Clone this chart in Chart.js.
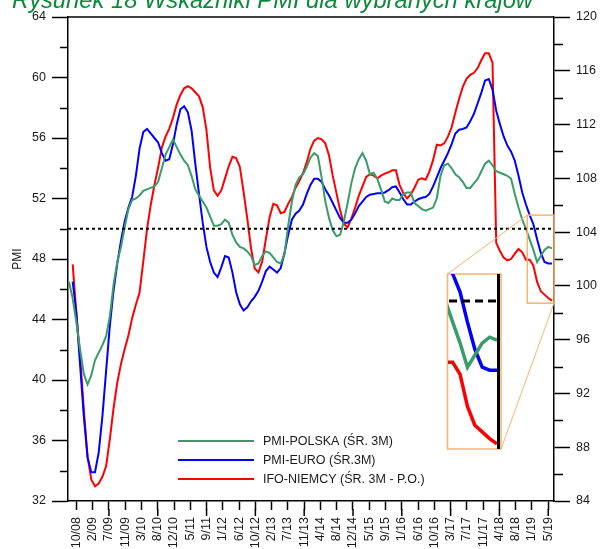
<!DOCTYPE html>
<html><head><meta charset="utf-8">
<script src="https://cdn.jsdelivr.net/npm/chart.js"></script>
<style>
html,body{margin:0;padding:0;background:#fff;overflow:hidden}
#wrap{position:relative;width:601px;height:549px;overflow:hidden}
#main{position:absolute;left:0;top:0}
#inset{position:absolute;left:448px;top:274px}
#title{position:absolute;left:12px;top:-11px;display:inline-block;white-space:nowrap;font-family:'Liberation Sans',Arial,sans-serif;font-style:italic;font-size:23px;line-height:23px;color:#0a8a3a;transform-origin:0 0}
</style></head><body>
<div id="wrap">
<canvas id="main" width="601" height="549"></canvas>
<canvas id="inset" width="53" height="175"></canvas>
<div id="title">Rysunek 18 Wskaźniki PMI dla wybranych krajów</div>
</div>
<script>
// months counted from January 2008 (0 = 1/08)
const firstMonth = 7;
const pmiPolska = [46.5,45.4,43.8,42.0,40.4,39.7,40.3,41.3,41.8,42.3,
42.9,44.2,46.3,47.8,48.8,50.1,51.3,51.9,52.0,52.2,
52.5,52.6,52.7,52.8,53.1,54.0,54.9,55.4,55.9,55.4,
54.9,54.5,54.2,53.5,52.6,52.2,51.8,51.4,50.8,50.2,
50.2,50.3,50.6,50.4,49.6,49.1,48.8,48.7,48.5,48.2,
47.6,47.7,48.2,48.5,48.4,48.1,47.8,47.7,48.3,50.2,
51.8,52.9,53.4,53.6,54.1,54.7,55.0,54.8,53.4,51.8,
50.7,49.9,49.5,49.6,50.5,51.7,53.0,54.0,54.6,55.0,
54.5,53.6,53.7,53.3,52.6,51.8,51.7,52.0,51.9,51.9,
52.3,52.4,52.4,51.7,51.5,51.3,51.2,51.3,51.4,52.0,
53.5,54.2,54.3,54.0,53.6,53.4,53.1,52.7,52.7,53.0,
53.3,53.8,54.3,54.5,54.2,53.8,53.7,53.6,53.5,53.3,
52.3,51.4,50.6,50.0,49.3,48.6,47.8,48.2,48.6,48.8,
48.7];
const pmiEuro = [null,46.5,44.4,41.0,37.6,34.9,33.9,33.9,35.2,37.6,
40.6,43.6,45.9,47.7,49.2,50.5,51.4,52.1,53.5,55.3,
56.4,56.6,56.3,56.0,55.7,55.0,54.5,54.6,55.6,56.9,
57.9,58.1,57.7,56.5,54.3,52.3,50.4,48.8,47.8,47.1,
46.8,47.45,48.2,48.1,47.1,45.8,45.0,44.6,44.8,45.2,
45.5,45.9,46.5,47.2,47.5,47.3,47.1,47.4,48.4,49.6,
50.6,51.0,51.2,51.6,52.3,52.9,53.3,53.3,53.1,52.6,
52.2,51.7,51.2,50.7,50.4,50.4,50.6,51.0,51.5,51.8,
52.1,52.25,52.3,52.35,52.35,52.4,52.55,52.75,52.8,52.4,
51.95,51.6,51.6,51.8,51.95,52.05,52.1,52.3,52.8,53.4,
54.0,54.5,55.0,55.6,56.3,56.55,56.6,56.7,57.1,57.6,
58.3,59.0,59.8,59.9,59.2,57.8,56.9,56.1,55.5,55.1,
54.5,53.5,52.4,51.6,50.9,50.3,49.3,48.4,47.8,47.7,
47.7];
const ifoNiemcy = [null,101.6,97.9,94.7,90.8,87.3,85.6,85.1,85.3,85.8,
86.6,88.6,90.9,92.8,94.2,95.3,96.3,97.6,98.6,99.5,
101.8,104.2,106.0,107.5,108.8,110.3,111.1,111.7,112.5,113.5,
114.2,114.7,114.85,114.7,114.4,114.1,113.3,111.6,108.8,107.1,
106.7,107.1,108.0,108.9,109.6,109.5,108.85,107.0,105.0,102.8,
101.3,101.0,101.8,103.5,105.1,106.1,106.0,105.4,105.5,106.1,
106.6,107.3,107.8,108.4,109.2,110.2,110.8,111.0,110.9,110.6,
109.7,108.2,106.9,105.6,104.6,104.35,105.0,105.8,106.7,107.4,
108.1,108.3,108.2,108.0,108.2,108.35,108.45,108.6,108.6,107.5,
106.9,106.5,106.8,107.3,107.9,108.0,107.9,108.5,109.35,110.5,
110.45,110.6,111.1,111.8,112.9,113.9,114.8,115.4,115.7,115.85,
116.2,116.8,117.3,117.3,116.6,103.2,102.6,102.1,101.9,102.0,
102.4,102.75,102.5,101.95,101.95,101.5,100.3,99.6,99.35,99.1,
98.9];
const seriesLabels = ['PMI-POLSKA (ŚR. 3M)','PMI-EURO (ŚR.3M)','IFO-NIEMCY (ŚR. 3M - P.O.)'];
const tickLabels = ['10/08','2/09','7/09','11/09','3/10','8/10','12/10','5/11','9/11','1/12','6/12','10/12','2/13','7/13','11/13','4/14','8/14','12/14','5/15','9/15','1/16','6/16','10/16','3/17','7/17','11/17','4/18','8/18','1/19','5/19'];
const firstTickMonth = 9, lastTickMonth = 136;
const xRange = [6.74, 137.55];
const leftRange = [32, 64], rightRange = [84, 120];
const refLevel = 50;
const insetX = [130.36, 137.55], insetLeft = [45.08, 50.9], insetRight = [98.71, 105.25];

const GREEN = '#3a9c68', BLUE = '#0000ff', RED = '#ff0000', ORANGE = '#f8b46c';
const FONT = "'Liberation Sans', Arial, sans-serif";
const pts = arr => arr.map((v, i) => ({x: firstMonth + i, y: v}));

function datasets(width) {
  return [
    {label: seriesLabels[0], data: pts(pmiPolska), borderColor: GREEN, yAxisID: 'y', borderWidth: width},
    {label: seriesLabels[1], data: pts(pmiEuro), borderColor: BLUE, yAxisID: 'y', borderWidth: width},
    {label: seriesLabels[2], data: pts(ifoNiemcy), borderColor: RED, yAxisID: 'y2', borderWidth: width}
  ];
}

const insetBox = {left: 448, top: 274, width: 53, height: 175};

const decor = {
  id: 'decor',
  afterDatasetsDraw(chart) {
    const {ctx, chartArea: a, scales: {x, y, y2}} = chart;
    ctx.save();
    ctx.strokeStyle = '#000';
    ctx.lineWidth = 1.5;
    ctx.beginPath(); ctx.moveTo(a.left, a.top); ctx.lineTo(a.right, a.top); ctx.stroke();
    ctx.beginPath();
    for (let v = leftRange[0] + 2; v < leftRange[1]; v += 4) {
      const p = Math.round(y.getPixelForValue(v)) + 0.5;
      ctx.moveTo(a.left - 8, p); ctx.lineTo(a.left, p);
    }
    for (let v = rightRange[0] + 2; v < rightRange[1]; v += 4) {
      const p = Math.round(y2.getPixelForValue(v)) + 0.5;
      ctx.moveTo(a.right, p); ctx.lineTo(a.right + 9, p);
    }
    x.ticks.forEach((t, i) => {
      if (i % 3 === 2) {
        const p = x.getPixelForValue(t.value);
        ctx.moveTo(p, a.bottom + 8); ctx.lineTo(p, a.bottom + 15);
      }
    });
    ctx.stroke();
    ctx.setLineDash([3, 3]);
    ctx.lineWidth = 2;
    const ry = y.getPixelForValue(refLevel);
    ctx.beginPath(); ctx.moveTo(a.left, ry); ctx.lineTo(a.right, ry); ctx.stroke();
    ctx.setLineDash([]);
    const sx0 = x.getPixelForValue(insetX[0]), sx1 = x.getPixelForValue(insetX[1]);
    const sy0 = y.getPixelForValue(insetLeft[1]), sy1 = y.getPixelForValue(insetLeft[0]);
    ctx.strokeStyle = ORANGE; ctx.lineWidth = 1.5;
    ctx.strokeRect(sx0, sy0, sx1 - sx0, sy1 - sy0);
    ctx.strokeRect(insetBox.left - 0.5, insetBox.top, insetBox.width + 0.5, insetBox.height);
    ctx.lineWidth = 1;
    ctx.beginPath();
    ctx.moveTo(sx0, sy0); ctx.lineTo(insetBox.left - 0.5, insetBox.top);
    ctx.moveTo(sx1, sy1); ctx.lineTo(insetBox.left + insetBox.width, insetBox.top + insetBox.height);
    ctx.stroke();
    const rows = [441, 460, 479];
    ctx.font = '12.5px ' + FONT;
    ctx.textBaseline = 'middle';
    ctx.textAlign = 'left';
    chart.data.datasets.forEach((ds, i) => {
      ctx.strokeStyle = ds.borderColor; ctx.lineWidth = 2;
      ctx.beginPath(); ctx.moveTo(178, rows[i]); ctx.lineTo(254, rows[i]); ctx.stroke();
      ctx.fillStyle = '#1a1a1a';
      ctx.fillText(ds.label, 263, rows[i] + 0.5);
    });
    ctx.restore();
  }
};

const tickFont = {family: FONT, size: 12.5};
new Chart(document.getElementById('main'), {
  type: 'line',
  data: {datasets: datasets(2)},
  options: {
    responsive: false, animation: false, devicePixelRatio: 1,
    elements: {point: {radius: 0}, line: {tension: 0}},
    layout: {padding: {top: 17, left: 0, right: 0, bottom: 0}},
    plugins: {legend: {display: false}, tooltip: {enabled: false}},
    scales: {
      x: {
        type: 'linear', position: 'bottom', min: xRange[0], max: xRange[1],
        afterBuildTicks: s => {
          const step = (lastTickMonth - firstTickMonth) / (tickLabels.length - 1);
          s.ticks = tickLabels.map((l, i) => ({value: firstTickMonth + i * step}));
        },
        ticks: {autoSkip: false, minRotation: 90, maxRotation: 90, padding: 7, color: '#1a1a1a', font: tickFont,
          callback: (v, i) => tickLabels[i]},
        grid: {drawOnChartArea: false, drawTicks: true, tickLength: 9, color: '#000', tickWidth: 1.5},
        border: {display: true, color: '#000', width: 1.5},
        afterFit: s => { s.height = 48; }
      },
      y: {
        position: 'left', min: leftRange[0], max: leftRange[1],
        ticks: {stepSize: 4, padding: 6, color: '#1a1a1a', font: tickFont},
        grid: {drawOnChartArea: false, tickLength: 16, color: '#000', tickWidth: 1.5},
        border: {display: true, color: '#000', width: 1.5},
        title: {display: true, text: 'PMI', color: '#1a1a1a', font: {family: FONT, size: 12}, padding: {top: 10, bottom: 0}},
        afterFit: s => { s.width = 68; }
      },
      y2: {
        position: 'right', min: rightRange[0], max: rightRange[1],
        ticks: {stepSize: 4, padding: 6, color: '#1a1a1a', font: tickFont},
        grid: {drawOnChartArea: false, tickLength: 16, color: '#000', tickWidth: 1.5},
        border: {display: true, color: '#000', width: 1.5},
        afterFit: s => { s.width = 47; }
      }
    }
  },
  plugins: [decor]
});

const insetDecor = {
  id: 'insetDecor',
  afterDatasetsDraw(chart) {
    const {ctx, chartArea: a, scales: {y}} = chart;
    ctx.save();
    ctx.strokeStyle = '#000';
    ctx.lineWidth = 3;
    const ax = a.right - 2.5;
    ctx.setLineDash([8, 5]);
    const ry = y.getPixelForValue(refLevel);
    ctx.beginPath(); ctx.moveTo(a.left + 1, ry); ctx.lineTo(ax, ry); ctx.stroke();
    ctx.setLineDash([]);
    ctx.beginPath(); ctx.moveTo(ax, a.top); ctx.lineTo(ax, a.bottom); ctx.stroke();
    ctx.restore();
  }
};

new Chart(document.getElementById('inset'), {
  type: 'line',
  data: {datasets: datasets(3.5)},
  options: {
    responsive: false, animation: false, devicePixelRatio: 1,
    elements: {point: {radius: 0}, line: {tension: 0}},
    layout: {padding: 0},
    plugins: {legend: {display: false}, tooltip: {enabled: false}},
    scales: {
      x: {type: 'linear', display: false, min: insetX[0], max: insetX[1]},
      y: {display: false, min: insetLeft[0], max: insetLeft[1]},
      y2: {display: false, min: insetRight[0], max: insetRight[1]}
    }
  },
  plugins: [insetDecor]
});

const t = document.getElementById('title');
const w = t.getBoundingClientRect().width;
t.style.transform = 'scaleX(' + (521 / w) + ')';
</script>
</body></html>
